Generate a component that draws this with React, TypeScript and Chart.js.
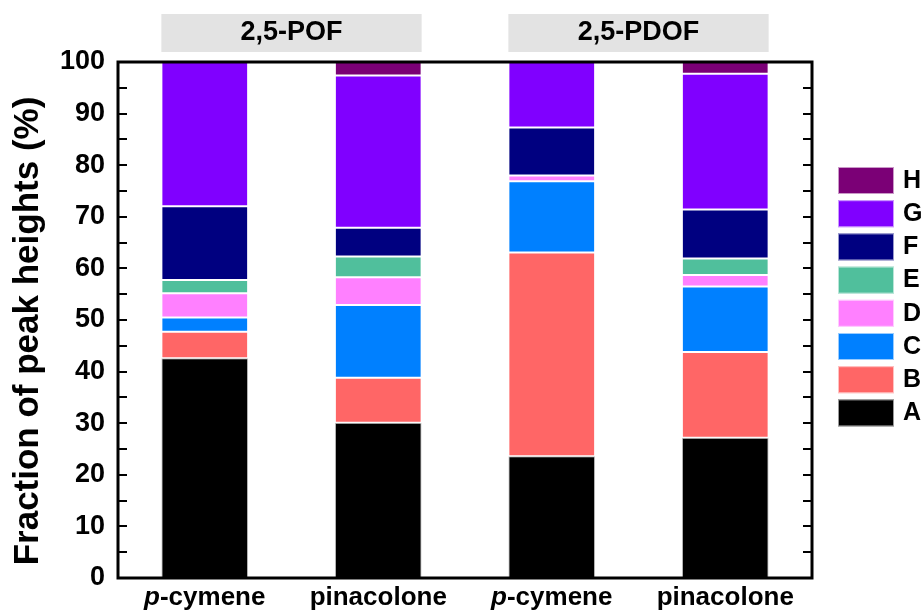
import React, { useEffect, useRef } from 'react';
import { Chart, registerables } from 'chart.js';

Chart.register(...registerables);

const categories = ['p-cymene', 'pinacolone', 'p-cymene', 'pinacolone'];
const groupLabels = ['2,5-POF', '2,5-PDOF'];
const seriesNames = ['A', 'B', 'C', 'D', 'E', 'F', 'G', 'H'];
const seriesColors = ['#000000', '#FF6666', '#0080FF', '#FF80FF', '#50BF9C', '#000080', '#8000FF', '#7B0076'];
const A = [42.6, 30.1, 23.6, 27.2];
const B = [5.1, 8.7, 39.5, 16.6];
const C = [2.8, 14.1, 13.8, 12.7];
const D = [4.7, 5.4, 1.1, 2.2];
const E = [2.55, 4.0, 0, 3.2];
const F = [14.3, 5.6, 9.3, 9.5];
const G = [28.0, 29.5, 12.7, 26.3];
const H = [0, 2.6, 0, 2.3];
const seriesValues = [A, B, C, D, E, F, G, H];
const yMin = 0;
const yMax = 100;
const yStep = 10;
const yTitle = 'Fraction of peak heights (%)';

const FONT = 'Arial, "Liberation Sans", sans-serif';

const decorPlugin = {
  id: 'decor',
  afterDraw(chart: any) {
    const { ctx, chartArea } = chart;
    const { left, right, top, bottom } = chartArea;
    const yScale = chart.scales.y;
    const xScale = chart.scales.x;
    ctx.save();

    // frame
    ctx.strokeStyle = '#000';
    ctx.lineWidth = 3;
    ctx.strokeRect(left, top, right - left, bottom - top);

    // inward ticks on left and right
    ctx.lineWidth = 2;
    for (let v = yMin + yStep / 2; v < yMax; v += yStep / 2) {
      const y = Math.round(yScale.getPixelForValue(v));
      ctx.beginPath();
      ctx.moveTo(left, y);
      ctx.lineTo(left + 9, y);
      ctx.moveTo(right, y);
      ctx.lineTo(right - 9, y);
      ctx.stroke();
    }

    // y title
    ctx.fillStyle = '#000';
    ctx.font = `bold 35px ${FONT}`;
    ctx.textAlign = 'center';
    ctx.textBaseline = 'middle';
    ctx.translate(28, 331);
    ctx.rotate(-Math.PI / 2);
    ctx.fillText(yTitle, 0, 0);
    ctx.setTransform(1, 0, 0, 1, 0, 0);

    // x labels with italic prefix
    ctx.textBaseline = 'middle';
    ctx.textAlign = 'left';
    categories.forEach((lab, i) => {
      const cx = xScale.getPixelForValue(i);
      let ital = '';
      let rest = lab;
      if (lab.startsWith('p-')) {
        ital = 'p';
        rest = lab.slice(1);
      }
      ctx.font = `italic bold 26px ${FONT}`;
      const wi = ital ? ctx.measureText(ital).width : 0;
      ctx.font = `bold 26px ${FONT}`;
      const wr = ctx.measureText(rest).width;
      const x0 = cx - (wi + wr) / 2;
      if (ital) {
        ctx.font = `italic bold 26px ${FONT}`;
        ctx.fillText(ital, x0, 598);
      }
      ctx.font = `bold 26px ${FONT}`;
      ctx.fillText(rest, x0 + wi, 598);
    });

    // group header boxes
    const meta = chart.getDatasetMeta(0);
    groupLabels.forEach((g, gi) => {
      const e1 = meta.data[gi * 2];
      const e2 = meta.data[gi * 2 + 1];
      const x1 = e1.x - e1.width / 2;
      const x2 = e2.x + e2.width / 2;
      ctx.fillStyle = '#E3E3E3';
      ctx.fillRect(x1, 14, x2 - x1, 38);
      ctx.fillStyle = '#000';
      ctx.font = `bold 27px ${FONT}`;
      ctx.textAlign = 'center';
      ctx.textBaseline = 'middle';
      ctx.fillText(g, (x1 + x2) / 2, 33);
    });

    // legend (reversed order)
    const order = seriesNames.map((_, i) => i).reverse();
    order.forEach((si, k) => {
      const yTop = 167 + k * 33.2;
      ctx.fillStyle = seriesColors[si];
      ctx.fillRect(838, yTop, 56, 27);
      ctx.strokeStyle = 'rgba(255,255,255,0.6)';
      ctx.lineWidth = 1;
      ctx.strokeRect(838.5, yTop + 0.5, 55, 26);
      ctx.fillStyle = '#000';
      ctx.font = `bold 25px ${FONT}`;
      ctx.textAlign = 'left';
      ctx.textBaseline = 'middle';
      ctx.fillText(seriesNames[si], 903, yTop + 14);
    });

    ctx.restore();
  },
};

export default function App() {
  const ref = useRef<HTMLCanvasElement>(null);
  useEffect(() => {
    document.body.style.margin = '0';
    const canvas = ref.current;
    if (!canvas) return;
    const chart = new Chart(canvas, {
      type: 'bar',
      data: {
        labels: categories,
        datasets: seriesNames.map((name, i) => ({
          label: name,
          data: seriesValues[i].map((v) => (v === 0 ? null : v)),
          backgroundColor: seriesColors[i],
          borderColor: i === 0 ? 'rgba(190,190,190,0.9)' : 'rgba(255,255,255,0.75)',
          borderWidth: 1,
          borderSkipped: false,
          barPercentage: 0.5,
          categoryPercentage: 1,
        })),
      },
      options: {
        responsive: false,
        animation: false,
        layout: { padding: { top: 62, right: 112, bottom: 37, left: 0 } },
        plugins: { legend: { display: false }, tooltip: { enabled: false } },
        scales: {
          x: {
            stacked: true,
            display: false,
            offset: true,
          },
          y: {
            stacked: true,
            min: yMin,
            max: yMax,
            afterFit: (s: any) => {
              s.width = 118;
            },
            ticks: {
              stepSize: yStep,
              padding: 13,
              color: '#000',
              font: { family: FONT, size: 27, weight: 'bold' },
            },
            grid: { display: false, drawTicks: false },
            border: { display: false },
          },
        },
      },
      plugins: [decorPlugin],
    });
    return () => chart.destroy();
  }, []);
  return (
    <div style={{ width: 924, height: 615 }}>
      <canvas ref={ref} width={924} height={615} style={{ display: 'block' }} />
    </div>
  );
}
